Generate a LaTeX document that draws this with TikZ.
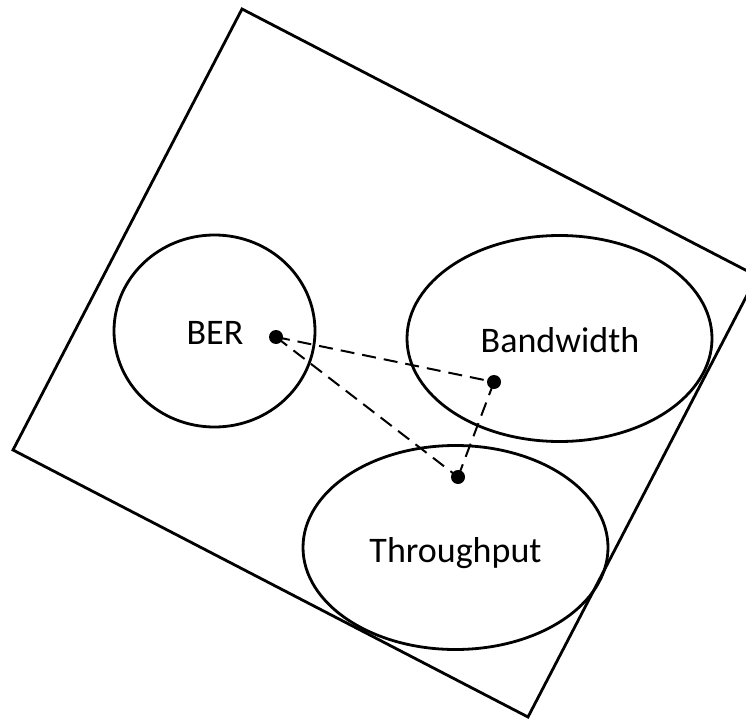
\documentclass[tikz,border=0pt]{standalone}
\usepackage{fontspec}
\setmainfont{Carlito}
\usetikzlibrary{shapes.geometric}
\begin{document}
\begin{tikzpicture}[x=1pt,y=-1pt,
  region/.style={draw, ellipse, line width=2.8pt, inner sep=0pt},
  lbl/.style={anchor=base, inner sep=0pt, font=\fontsize{36}{40}\selectfont},
  dot/.style={circle, fill=black, minimum size=14pt, inner sep=0pt},
  link/.style={dashed, line width=2pt, dash pattern=on 14pt off 8pt},
  frame/.style={line width=2.8pt, line join=miter}]
\useasboundingbox (0,0) rectangle (746,719);
\begin{scope}
\clip (0,0) rectangle (746,719);
% tilted frame
\coordinate (c1) at (242,9);
\coordinate (c2) at (757,276);
\coordinate (c3) at (528,717);
\coordinate (c4) at (13,450);
\draw[frame] (c1) -- (c2) -- (c3) -- (c4) -- cycle;
\end{scope}
% regions
\node[region, minimum width=201pt, minimum height=192pt] (ber) at (214.5,331) {};
\node[region, minimum width=305pt, minimum height=206pt] (bw) at (559.5,338.5) {};
\node[region, minimum width=305pt, minimum height=204pt] (tp) at (455.5,547.5) {};
% labels
\node[lbl] (berl) at (215,344) {BER};
\node[lbl] (bwl) at (560,352) {Bandwidth};
\node[lbl] (tpl) at (455.5,562) {Throughput};
% operating points
\node[dot] (p1) at (276,337) {};
\node[dot] (p2) at (494,382) {};
\node[dot] (p3) at (458,477) {};
\draw[link] (p1.center) -- (p2.center);
\draw[link] (p2.center) -- (p3.center);
\draw[link] (p1.center) -- (p3.center);
\end{tikzpicture}
\end{document}
